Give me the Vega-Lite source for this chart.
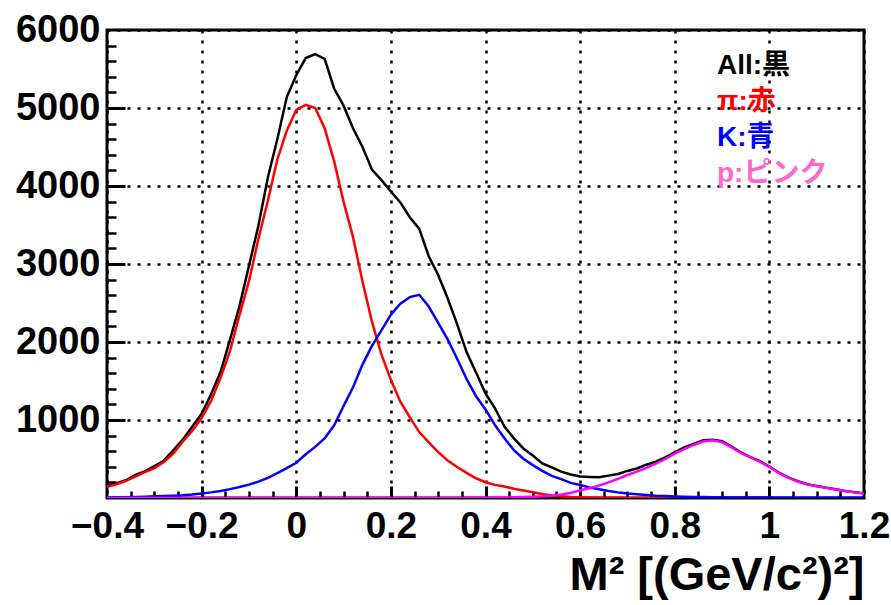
{
  "$schema": "https://vega.github.io/schema/vega-lite/v6.json",
  "width": 757,
  "height": 468,
  "autosize": {"type": "none"},
  "padding": {"left": 107, "top": 30, "right": 27, "bottom": 107},
  "background": "white",
  "config": {
    "view": {"stroke": "#000000", "strokeWidth": 3},
    "axis": {"labelFont": "Liberation Sans", "labelFontWeight": "bold", "labelColor": "#000000", "titleFont": "Liberation Sans", "titleFontWeight": "bold", "titleColor": "#000000"}
  },
  "data": {
    "values": [
      {"x": -0.40, "all": 153, "pi": 145, "k": 8, "p": 0},
      {"x": -0.38, "all": 190, "pi": 176, "k": 9, "p": 0},
      {"x": -0.36, "all": 228, "pi": 220, "k": 11, "p": 0},
      {"x": -0.34, "all": 296, "pi": 274, "k": 14, "p": 0},
      {"x": -0.32, "all": 342, "pi": 332, "k": 17, "p": 0},
      {"x": -0.30, "all": 410, "pi": 380, "k": 21, "p": 0},
      {"x": -0.28, "all": 478, "pi": 462, "k": 25, "p": 0},
      {"x": -0.26, "all": 610, "pi": 568, "k": 30, "p": 0},
      {"x": -0.24, "all": 748, "pi": 722, "k": 36, "p": 0},
      {"x": -0.22, "all": 912, "pi": 858, "k": 45, "p": 0},
      {"x": -0.20, "all": 1080, "pi": 1026, "k": 58, "p": 0},
      {"x": -0.18, "all": 1330, "pi": 1244, "k": 72, "p": 0},
      {"x": -0.16, "all": 1615, "pi": 1540, "k": 90, "p": 0},
      {"x": -0.14, "all": 2030, "pi": 1885, "k": 114, "p": 0},
      {"x": -0.12, "all": 2460, "pi": 2345, "k": 140, "p": 0},
      {"x": -0.10, "all": 2975, "pi": 2780, "k": 172, "p": 0},
      {"x": -0.08, "all": 3490, "pi": 3320, "k": 210, "p": 0},
      {"x": -0.06, "all": 4110, "pi": 3810, "k": 258, "p": 0},
      {"x": -0.04, "all": 4600, "pi": 4340, "k": 318, "p": 0},
      {"x": -0.02, "all": 5140, "pi": 4710, "k": 382, "p": 0},
      {"x": 0.00, "all": 5420, "pi": 4975, "k": 452, "p": 0},
      {"x": 0.02, "all": 5640, "pi": 5040, "k": 560, "p": 0},
      {"x": 0.04, "all": 5690, "pi": 5000, "k": 655, "p": 0},
      {"x": 0.06, "all": 5630, "pi": 4740, "k": 765, "p": 0},
      {"x": 0.08, "all": 5250, "pi": 4320, "k": 930, "p": 0},
      {"x": 0.10, "all": 5030, "pi": 3800, "k": 1180, "p": 0},
      {"x": 0.12, "all": 4740, "pi": 3345, "k": 1420, "p": 0},
      {"x": 0.14, "all": 4500, "pi": 2775, "k": 1710, "p": 0},
      {"x": 0.16, "all": 4210, "pi": 2260, "k": 1950, "p": 0},
      {"x": 0.18, "all": 4075, "pi": 1840, "k": 2150, "p": 0},
      {"x": 0.20, "all": 3930, "pi": 1515, "k": 2350, "p": 0},
      {"x": 0.22, "all": 3790, "pi": 1235, "k": 2490, "p": 0},
      {"x": 0.24, "all": 3600, "pi": 1035, "k": 2575, "p": 0},
      {"x": 0.26, "all": 3450, "pi": 845, "k": 2605, "p": 0},
      {"x": 0.28, "all": 3100, "pi": 712, "k": 2455, "p": 0},
      {"x": 0.30, "all": 2860, "pi": 588, "k": 2245, "p": 0},
      {"x": 0.32, "all": 2560, "pi": 482, "k": 2035, "p": 0},
      {"x": 0.34, "all": 2230, "pi": 398, "k": 1785, "p": 1},
      {"x": 0.36, "all": 1870, "pi": 322, "k": 1525, "p": 2},
      {"x": 0.38, "all": 1610, "pi": 253, "k": 1305, "p": 2},
      {"x": 0.40, "all": 1340, "pi": 202, "k": 1135, "p": 3},
      {"x": 0.42, "all": 1150, "pi": 168, "k": 935, "p": 4},
      {"x": 0.44, "all": 915, "pi": 147, "k": 765, "p": 6},
      {"x": 0.46, "all": 765, "pi": 118, "k": 612, "p": 9},
      {"x": 0.48, "all": 635, "pi": 96, "k": 503, "p": 12},
      {"x": 0.50, "all": 545, "pi": 74, "k": 422, "p": 16},
      {"x": 0.52, "all": 442, "pi": 51, "k": 347, "p": 22},
      {"x": 0.54, "all": 392, "pi": 32, "k": 283, "p": 32},
      {"x": 0.56, "all": 338, "pi": 22, "k": 242, "p": 45},
      {"x": 0.58, "all": 302, "pi": 14, "k": 194, "p": 65},
      {"x": 0.60, "all": 276, "pi": 9, "k": 166, "p": 100},
      {"x": 0.62, "all": 270, "pi": 6, "k": 134, "p": 125},
      {"x": 0.64, "all": 266, "pi": 4, "k": 111, "p": 158},
      {"x": 0.66, "all": 287, "pi": 3, "k": 90, "p": 200},
      {"x": 0.68, "all": 308, "pi": 2, "k": 72, "p": 245},
      {"x": 0.70, "all": 347, "pi": 1, "k": 58, "p": 295},
      {"x": 0.72, "all": 378, "pi": 1, "k": 48, "p": 338},
      {"x": 0.74, "all": 427, "pi": 0, "k": 38, "p": 385},
      {"x": 0.76, "all": 466, "pi": 0, "k": 30, "p": 440},
      {"x": 0.78, "all": 522, "pi": 0, "k": 25, "p": 500},
      {"x": 0.80, "all": 586, "pi": 0, "k": 20, "p": 568},
      {"x": 0.82, "all": 648, "pi": 0, "k": 17, "p": 628},
      {"x": 0.84, "all": 693, "pi": 0, "k": 14, "p": 680},
      {"x": 0.86, "all": 740, "pi": 0, "k": 12, "p": 724},
      {"x": 0.88, "all": 748, "pi": 0, "k": 10, "p": 740},
      {"x": 0.90, "all": 727, "pi": 0, "k": 9, "p": 715},
      {"x": 0.92, "all": 658, "pi": 0, "k": 8, "p": 650},
      {"x": 0.94, "all": 584, "pi": 0, "k": 7, "p": 575},
      {"x": 0.96, "all": 525, "pi": 0, "k": 6, "p": 520},
      {"x": 0.98, "all": 472, "pi": 0, "k": 5, "p": 465},
      {"x": 1.00, "all": 403, "pi": 0, "k": 5, "p": 400},
      {"x": 1.02, "all": 326, "pi": 0, "k": 4, "p": 320},
      {"x": 1.04, "all": 264, "pi": 0, "k": 4, "p": 260},
      {"x": 1.06, "all": 215, "pi": 0, "k": 3, "p": 210},
      {"x": 1.08, "all": 177, "pi": 0, "k": 3, "p": 175},
      {"x": 1.10, "all": 154, "pi": 0, "k": 3, "p": 150},
      {"x": 1.12, "all": 132, "pi": 0, "k": 3, "p": 130},
      {"x": 1.14, "all": 111, "pi": 0, "k": 2, "p": 108},
      {"x": 1.16, "all": 91, "pi": 0, "k": 2, "p": 90},
      {"x": 1.18, "all": 75, "pi": 0, "k": 2, "p": 72},
      {"x": 1.20, "all": 60, "pi": 0, "k": 2, "p": 58}
    ]
  },
  "transform": [{"fold": ["all", "pi", "k", "p"], "as": ["series", "count"]}],
  "resolve": {"axis": {"x": "independent", "y": "independent"}},
  "layer": [
    {
      "mark": {"type": "line", "strokeWidth": 2.5, "interpolate": "linear", "clip": true},
      "encoding": {
        "x": {
          "field": "x", "type": "quantitative",
          "scale": {"domain": [-0.4, 1.2], "nice": false, "zero": false},
          "axis": {
            "orient": "bottom",
            "values": [-0.4, -0.2, 0, 0.2, 0.4, 0.6, 0.8, 1, 1.2],
            "format": "~g",
            "domain": false,
            "ticks": false,
            "grid": true, "gridColor": "#000000", "gridDash": [3, 7], "gridWidth": 2.5, "gridOpacity": 1,
            "labelFontSize": 37, "labelPadding": 10, "labelFlush": false,
            "title": "M² [(GeV/c²)²]", "titleFontSize": 47, "titleAnchor": "end", "titleAlign": "right", "titlePadding": 8
          }
        },
        "y": {
          "field": "count", "type": "quantitative",
          "scale": {"domain": [0, 6000], "nice": false, "zero": true},
          "axis": {
            "orient": "left",
            "values": [1000, 2000, 3000, 4000, 5000, 6000],
            "format": "d",
            "domain": false,
            "ticks": false,
            "grid": true, "gridColor": "#000000", "gridDash": [3, 7], "gridWidth": 2.5, "gridOpacity": 1,
            "labelFontSize": 38, "labelPadding": 7, "labelFlush": false,
            "title": null
          }
        },
        "color": {
          "field": "series", "type": "nominal",
          "scale": {"domain": ["all", "pi", "k", "p"], "range": ["#000000", "#ff0000", "#0000ff", "#ff00ff"]},
          "legend": {
            "orient": "none", "legendX": 582, "legendY": 22,
            "title": null,
            "symbolSize": 0, "symbolOpacity": 0, "symbolStrokeWidth": 0,
            "labelOffset": 0, "labelFont": "'Liberation Sans', 'Noto Sans CJK JP'", "labelFontSize": 28, "labelFontWeight": "bold", "labelLimit": 0,
            "rowPadding": 8,
            "labelExpr": "datum.value == 'all' ? 'All:黒' : datum.value == 'pi' ? 'π:赤' : datum.value == 'k' ? 'K:青' : 'p:ピンク'",
            "encode": {"labels": {"update": {"fill": {"signal": "datum.value == 'all' ? '#000000' : datum.value == 'pi' ? '#ff0000' : datum.value == 'k' ? '#0000ff' : '#ff66cc'"}}}}
          }
        }
      }
    },
    {
      "mark": {"type": "line", "opacity": 0},
      "encoding": {
        "x": {
          "field": "x", "type": "quantitative",
          "axis": {
            "orient": "bottom", "offset": -12,
            "values": [-0.2, 0, 0.2, 0.4, 0.6, 0.8, 1],
            "domain": false, "labels": false, "grid": false,
            "ticks": true, "tickSize": 12, "tickWidth": 3, "tickColor": "#000000", "tickOpacity": 1,
            "title": null
          }
        },
        "y": {
          "field": "count", "type": "quantitative",
          "axis": {
            "orient": "left", "offset": -18,
            "values": [1000, 2000, 3000, 4000, 5000],
            "domain": false, "labels": false, "grid": false,
            "ticks": true, "tickSize": 18, "tickWidth": 3, "tickColor": "#000000", "tickOpacity": 1,
            "title": null
          }
        },
        "detail": {"field": "series", "type": "nominal"}
      }
    },
    {
      "mark": {"type": "line", "opacity": 0},
      "encoding": {
        "x": {
          "field": "x", "type": "quantitative",
          "axis": {
            "orient": "bottom", "offset": -7,
            "values": [-0.35, -0.3, -0.25, -0.15, -0.1, -0.05, 0.05, 0.1, 0.15, 0.25, 0.3, 0.35, 0.45, 0.5, 0.55, 0.65, 0.7, 0.75, 0.85, 0.9, 0.95, 1.05, 1.1, 1.15],
            "domain": false, "labels": false, "grid": false,
            "ticks": true, "tickSize": 7, "tickWidth": 2.5, "tickColor": "#000000", "tickOpacity": 1,
            "title": null
          }
        },
        "y": {
          "field": "count", "type": "quantitative",
          "axis": {
            "orient": "left", "offset": -9,
            "values": [200, 400, 600, 800, 1200, 1400, 1600, 1800, 2200, 2400, 2600, 2800, 3200, 3400, 3600, 3800, 4200, 4400, 4600, 4800, 5200, 5400, 5600, 5800],
            "domain": false, "labels": false, "grid": false,
            "ticks": true, "tickSize": 9, "tickWidth": 2.5, "tickColor": "#000000", "tickOpacity": 1,
            "title": null
          }
        },
        "detail": {"field": "series", "type": "nominal"}
      }
    }
  ]
}
